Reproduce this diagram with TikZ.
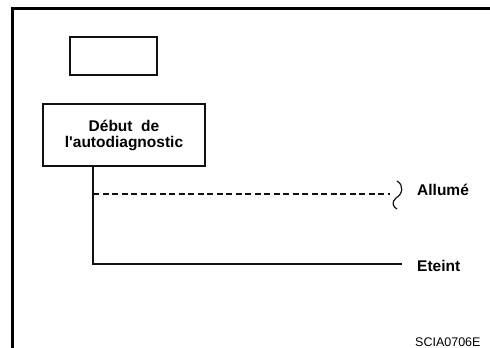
\documentclass[tikz,border=0pt]{standalone}
\usepackage{fontspec}
\setmainfont{Liberation Sans}[Ligatures=TeXOff]
\usetikzlibrary{positioning}
\definecolor{inkblack}{HTML}{111111}

\tikzset{
  boxed/.style={draw=inkblack, line width=1.2pt, inner sep=0pt},
  lbl/.style={font=\fontsize{15.5}{16}\selectfont\bfseries, inner sep=0pt, anchor=base west},
  wire/.style={draw=inkblack, line width=1.2pt},
}

\begin{document}
\begin{tikzpicture}[x=1pt, y=-1pt]
        \useasboundingbox (0,0) rectangle (490,348);
        % ── FRAME ──────────────────────────────────
        \draw[line width=3pt] (12.5,348) -- (12.5,8.5) -- (490,8.5);

        % ── BOXES ──────────────────────────────────
        \node[boxed, minimum width=87pt, minimum height=38pt] (blank)
          at (113.5,56) {};
        \node[boxed, minimum width=162pt, minimum height=62pt, align=center,
          font=\fontsize{15.5}{16}\selectfont\bfseries] (start)
          at (124,135) {Début~ de\\l'autodiagnostic};

        % ── LABELS ─────────────────────────────────
        \node[lbl] (allume) at (417,195) {Allumé};
        \node[lbl] (eteint) at (417,271.5) {Eteint};
        \node[font=\fontsize{12.5}{14}\selectfont, inner sep=0pt, anchor=base west]
          (code) at (415,346.5) {SCIA0706E};

        % ── SIGNAL LINES ───────────────────────────
        \coordinate (split) at (93,194);
        \coordinate (onend) at (390,194);
        \coordinate (offend) at (402,264);
        \draw[wire] (start.south -| split) -- (split) |- (offend);
        \draw[wire, dash pattern=on 6pt off 3.5pt] (split) -- (onend);
        % break mark
        \draw[wire] (397,181) .. controls (404,185) and (403,194) .. (396,198)
          .. controls (391,202) and (393,207) .. (397,209);
\end{tikzpicture}
\end{document}
